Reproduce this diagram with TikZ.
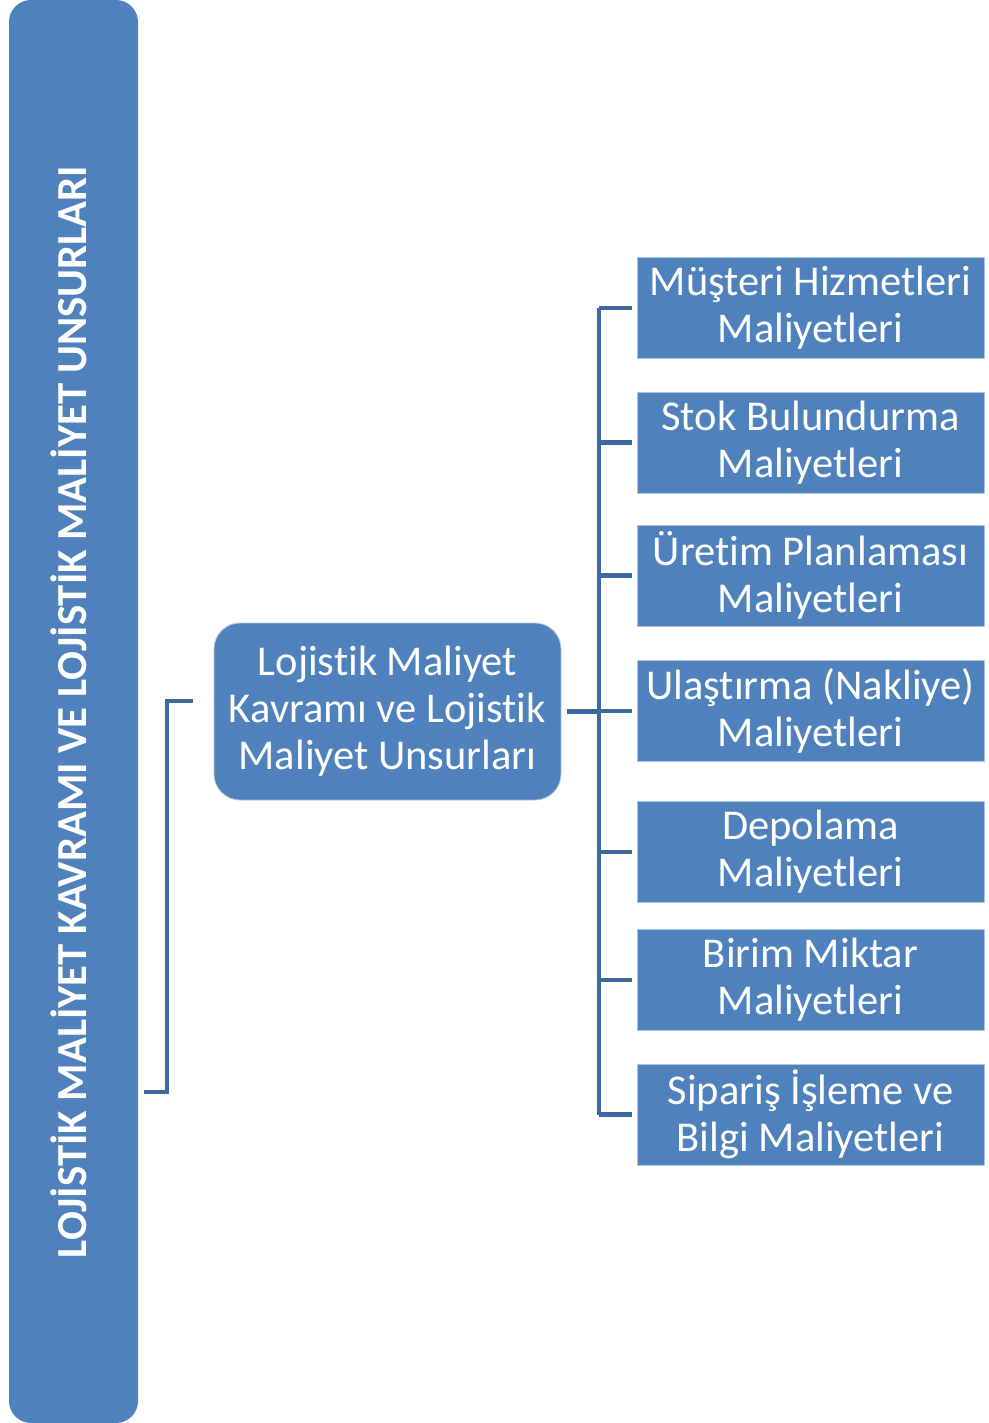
\documentclass[tikz,border=0pt]{standalone}
\usepackage{fontspec}
\setmainfont{Carlito}[Ligatures={NoCommon}]
\begin{document}
\definecolor{boxblue}{RGB}{79,129,189}
\definecolor{linkblue}{RGB}{62,104,160}
\definecolor{edgeblue}{RGB}{175,198,226}
\begin{tikzpicture}[x=1pt,y=-1pt,
  cost/.style={fill=boxblue, draw=edgeblue, line width=0.8pt,
    minimum width=347pt, minimum height=101pt, inner sep=0pt,
    text=white, align=center, font=\fontsize{42.5}{47}\selectfont},
  link/.style={draw=linkblue, line width=4.5pt}]
\useasboundingbox (0,0) rectangle (988,1423);

% title bar on the left
\node[fill=boxblue, rounded corners=22pt, minimum width=129pt, minimum height=1423pt,
  inner sep=0pt] (bar) at (73.5,711.5) {};
\node[rotate=90, text=white, font=\fontsize{42.8}{48}\selectfont\bfseries] (title) at (69,712)
  {LOJİSTİK MALİYET KAVRAMI VE LOJİSTİK MALİYET UNSURLARI};

% central node
\node[fill=boxblue, draw=edgeblue, line width=0.8pt, rounded corners=26pt,
  minimum width=347pt, minimum height=177pt, inner sep=0pt, text=white,
  align=center, font=\fontsize{42.5}{47}\selectfont] (core) at (387.5,711.5)
  {Lojistik Maliyet\\Kavramı ve Lojistik\\Maliyet Unsurları};

% cost items
\node[cost] (c1) at (810.5,308) {Müşteri Hizmetleri\\Maliyetleri};
\node[cost] (c2) at (810.5,442.5) {Stok Bulundurma\\Maliyetleri};
\node[cost] (c3) at (810.5,575.5) {Üretim Planlaması\\Maliyetleri};
\node[cost] (c4) at (810.5,711) {Ulaştırma (Nakliye)\\Maliyetleri};
\node[cost] (c5) at (810.5,852) {Depolama\\Maliyetleri};
\node[cost] (c6) at (810.5,980) {Birim Miktar\\Maliyetleri};
\node[cost] (c7) at (810.5,1114.5) {Sipariş İşleme ve\\Bilgi Maliyetleri};

% bracket from the title bar to the central node
\coordinate (lj) at (167,0);
\draw[link] ([xshift=6pt]bar.east |- 0,1092) -- (lj |- 0,1092) -- (lj |- 0,701)
  -- ([xshift=-21pt]core.west |- 0,701);

% bracket from the central node to the cost items
\coordinate (rj) at (599,0);
\draw[link] ([xshift=6pt]core.east) -- (rj |- core.east);
\foreach \n in {c1,c2,c3,c4,c5,c6,c7}
  \draw[link] (rj |- \n.west) -- ([xshift=-5pt]\n.west);
\draw[link] (rj |- c1.west) -- (rj |- c7.west);
\end{tikzpicture}
\end{document}
